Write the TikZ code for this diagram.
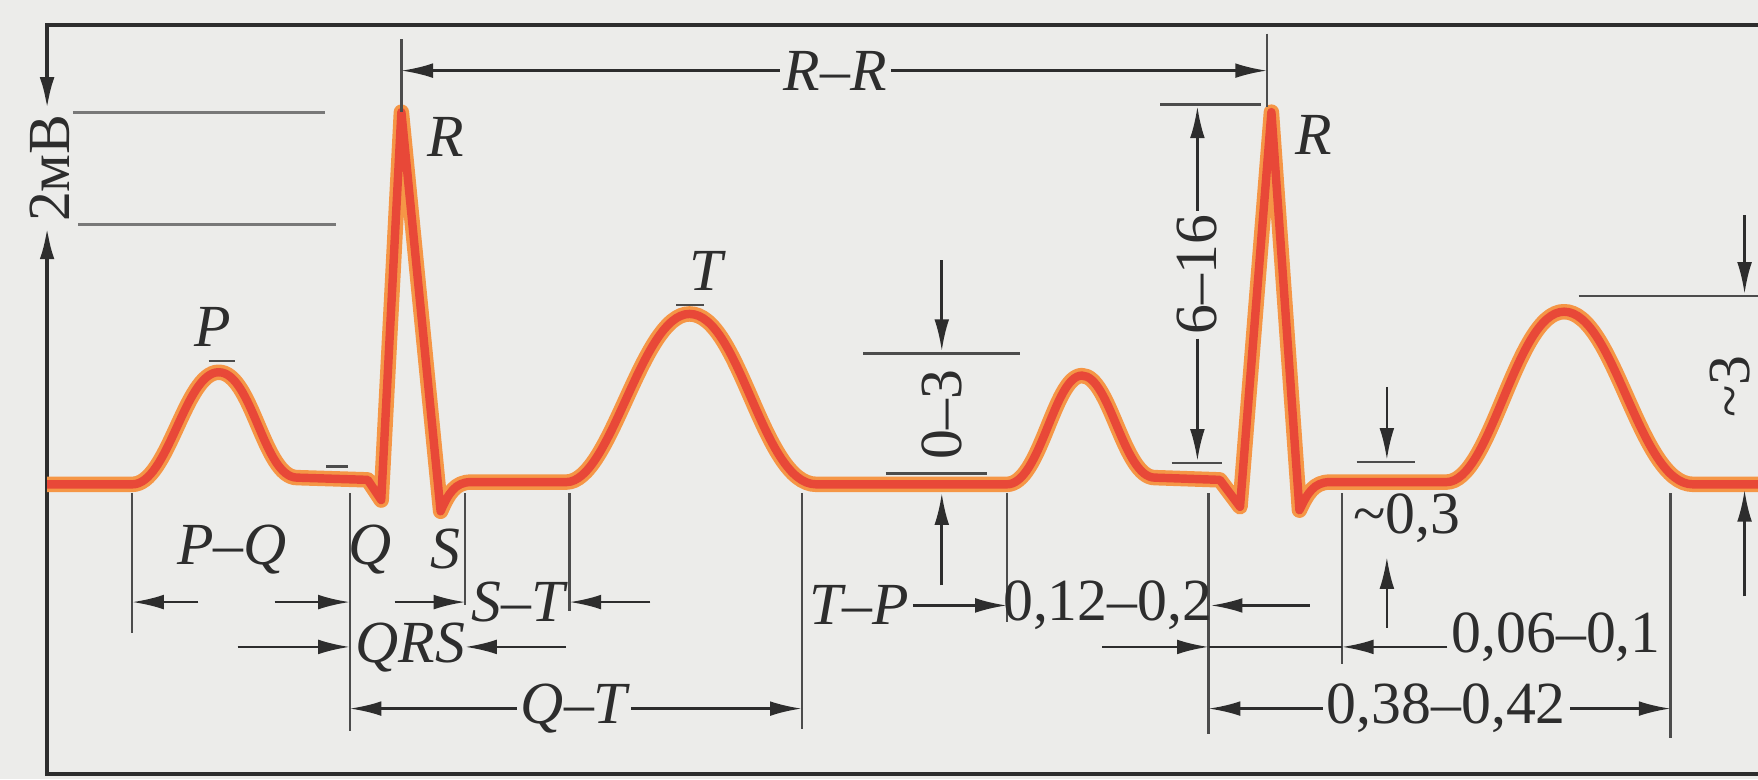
\documentclass[tikz,border=0pt]{standalone}
\usepackage{fontspec}
\setmainfont{Liberation Serif}
\usetikzlibrary{arrows.meta}

\definecolor{paper}{RGB}{236,236,234}
\definecolor{ink}{RGB}{45,45,45}
\definecolor{rulegray}{RGB}{120,120,120}
\definecolor{traceedge}{RGB}{245,150,70}
\definecolor{tracecore}{RGB}{232,72,56}

\begin{document}
\begin{tikzpicture}[
				x=0.011212cm, y=-0.011212cm,
				>={Latex[length=9pt,width=4.2pt]},
				boxline/.style={
					draw=ink,
					line width=1.1pt
				},
				dimline/.style={
					draw=ink,
					line width=0.75pt
				},
				extline/.style={
					draw=ink!85,
					line width=0.65pt
				},
				tickmark/.style={
					draw=ink!85,
					line width=0.8pt
				},
				levelline/.style={
					draw=rulegray,
					line width=0.8pt
				},
				ecgline/.style={
					draw=traceedge,
					double=tracecore,
					double distance=2.4pt,
					line width=1pt,
					line join=round
				},
				lbl/.style={
					text=ink,
					inner sep=1pt,
					font=\fontsize{17}{19}\selectfont
				},
				ilbl/.style={
					lbl,
					font=\fontsize{17}{19}\selectfont\itshape
				},
				vlbl/.style={
					lbl,
					rotate=90
				}
				]
				
				\useasboundingbox (0,0) rectangle (1568,695);
				\fill[paper] (0,0) rectangle (1568,695);
				
				% -------------------------------------------------------------------------
				% Frame and the 2 mV calibration
				% -------------------------------------------------------------------------
				
				\coordinate (frTL) at (42,22);
				\coordinate (frTR) at (1568,22);
				\coordinate (frBL) at (42,690);
				\coordinate (frBR) at (1568,690);
				\coordinate (mvA) at (42,97);
				\coordinate (mvB) at (42,203);
				
				\draw[boxline,->] (frTR) -- (frTL) -- (mvA);
				\draw[boxline,->] (frBR) -- (frBL) -- (mvB);
				
				\node[vlbl] (mv) at (44,150) {2мВ};
				
				\draw[levelline] (65,100) -- (290,100);
				\draw[levelline] (70,200) -- (300,200);
				
				% -------------------------------------------------------------------------
				% ECG trace
				% -------------------------------------------------------------------------
				
				\draw[ecgline] (42,432) -- (118,432)
				.. controls (150,432) and (165,332) .. (195,332)
				.. controls (225,332) and (235,426) .. (265,426)
				-- (328,428) -- (340,446) -- (358,100) -- (393,456)
				.. controls (400,440) and (406,430) .. (420,430)
				-- (505,430)
				.. controls (545,430) and (572,280) .. (615,280)
				.. controls (660,280) and (680,432) .. (728,432)
				-- (898,432)
				.. controls (928,432) and (940,335) .. (965,335)
				.. controls (990,335) and (1002,426) .. (1030,426)
				-- (1088,428) -- (1106,452) -- (1134,100) -- (1159,455)
				.. controls (1166,440) and (1172,430) .. (1186,430)
				-- (1290,430)
				.. controls (1330,430) and (1352,278) .. (1395,278)
				.. controls (1440,278) and (1462,432) .. (1510,432)
				-- (1568,432);
				
				% wave names
				\node[ilbl] (lblP) at (190,292) {P};
				\node[ilbl] (lblT) at (630,242) {T};
				\node[ilbl] (lblRa) at (398,122) {R};
				\node[ilbl] (lblRb) at (1172,120) {R};
				\node[ilbl] (lblQ) at (330,490) {Q};
				\node[ilbl] (lblS) at (397,490) {S};
				
				\draw[tickmark] (186,322) -- (210,322);
				\draw[tickmark] (291,416) -- (310,416);
				\draw[tickmark] (603,272) -- (628,272);
				
				% -------------------------------------------------------------------------
				% Extension lines
				% -------------------------------------------------------------------------
				
				\draw[extline] (358,35) -- (358,100);
				\draw[extline] (1130,30) -- (1130,95);
				
				\draw[extline] (118,440) -- (118,565);
				\draw[extline] (312,440) -- (312,652);
				\draw[extline] (415,440) -- (415,540);
				\draw[extline] (508,440) -- (508,545);
				\draw[extline] (715,440) -- (715,650);
				\draw[extline] (898,440) -- (898,555);
				\draw[extline] (1078,440) -- (1078,655);
				\draw[extline] (1197,440) -- (1197,592);
				\draw[extline] (1490,440) -- (1490,658);
				
				% -------------------------------------------------------------------------
				% Intervals, first beat
				% -------------------------------------------------------------------------
				
				\coordinate (rrA) at (358,63);
				\coordinate (rrB) at (1130,63);
				\node[ilbl,fill=paper] (RR) at (745,63) {R--R};
				\draw[dimline,->] (RR) -- (rrA);
				\draw[dimline,->] (RR) -- (rrB);
				
				\coordinate (pqA) at (118,537);
				\coordinate (pqB) at (312,537);
				\coordinate (pqAt) at (177,537);
				\coordinate (pqBt) at (245,537);
				\node[ilbl] (PQ) at (207,490) {P--Q};
				\draw[dimline,->] (pqAt) -- (pqA);
				\draw[dimline,->] (pqBt) -- (pqB);
				
				\coordinate (stA) at (415,537);
				\coordinate (stB) at (508,537);
				\coordinate (stAt) at (352,537);
				\coordinate (stBt) at (580,537);
				\node[ilbl] (ST) at (462,537) {S--T};
				\draw[dimline,->] (stAt) -- (stA);
				\draw[dimline,->] (stBt) -- (stB);
				
				\coordinate (qrsA) at (312,577);
				\coordinate (qrsB) at (415,577);
				\coordinate (qrsAt) at (212,577);
				\coordinate (qrsBt) at (505,577);
				\node[ilbl] (QRS) at (366,578) {QRS};
				\draw[dimline,->] (qrsAt) -- (qrsA);
				\draw[dimline,->] (qrsBt) -- (qrsB);
				
				\coordinate (qtA) at (312,632);
				\coordinate (qtB) at (715,632);
				\node[ilbl] (QT) at (512,632) {Q--T};
				\draw[dimline,->] (QT) -- (qtA);
				\draw[dimline,->] (QT) -- (qtB);
				
				\coordinate (tpB) at (898,540);
				\node[ilbl] (TP) at (766,540) {T--P};
				\draw[dimline,->] (TP) -- (tpB);
				
				% -------------------------------------------------------------------------
				% Durations, second beat
				% -------------------------------------------------------------------------
				
				\coordinate (pqsB) at (1080,540);
				\coordinate (pqsBt) at (1168,540);
				\node[lbl] (PQs) at (988,540) {0,12--0,2};
				\draw[dimline,->] (pqsBt) -- (pqsB);
				
				\coordinate (qrssA) at (1078,577);
				\coordinate (qrssB) at (1197,577);
				\coordinate (qrssAt) at (983,577);
				\coordinate (qrssBt) at (1291,577);
				\node[lbl] (QRSs) at (1388,568) {0,06--0,1};
				\draw[dimline,->] (qrssAt) -- (qrssA);
				\draw[dimline] (qrssA) -- (qrssB);
				\draw[dimline,->] (qrssBt) -- (qrssB);
				
				\coordinate (qtsA) at (1078,632);
				\coordinate (qtsB) at (1490,632);
				\node[lbl] (QTs) at (1290,632) {0,38--0,42};
				\draw[dimline,->] (QTs) -- (qtsA);
				\draw[dimline,->] (QTs) -- (qtsB);
				
				% -------------------------------------------------------------------------
				% Amplitudes
				% -------------------------------------------------------------------------
				
				\draw[tickmark] (770,315) -- (910,315);
				\draw[tickmark] (790,422) -- (880,422);
				\coordinate (a03A) at (840,313);
				\coordinate (a03At) at (840,232);
				\coordinate (a03B) at (840,440);
				\coordinate (a03Bt) at (840,522);
				\node[vlbl] (A03) at (840,370) {0--3};
				\draw[dimline,->] (a03At) -- (a03A);
				\draw[dimline,->] (a03Bt) -- (a03B);
				
				\draw[tickmark] (1035,93) -- (1125,93);
				\draw[tickmark] (1045,413) -- (1090,413);
				\coordinate (a616A) at (1068,95);
				\coordinate (a616B) at (1068,411);
				\node[vlbl] (A616) at (1068,245) {6--16};
				\draw[dimline,->] (A616) -- (a616A);
				\draw[dimline,->] (A616) -- (a616B);
				
				\draw[tickmark] (1210,412) -- (1262,412);
				\coordinate (stdA) at (1237,410);
				\coordinate (stdAt) at (1237,345);
				\coordinate (stdB) at (1237,497);
				\coordinate (stdBt) at (1237,560);
				\node[lbl] (STd) at (1255,462) {\textasciitilde0,3};
				\draw[dimline,->] (stdAt) -- (stdA);
				\draw[dimline,->] (stdBt) -- (stdB);
				
				\draw[tickmark] (1408,264) -- (1568,264);
				\coordinate (a3A) at (1556,262);
				\coordinate (a3At) at (1556,192);
				\coordinate (a3B) at (1556,437);
				\coordinate (a3Bt) at (1556,532);
				\node[vlbl] (A3) at (1543,345) {\textasciitilde3};
				\draw[dimline,->] (a3At) -- (a3A);
				\draw[dimline,->] (a3Bt) -- (a3B);
				
\end{tikzpicture}
\end{document}
